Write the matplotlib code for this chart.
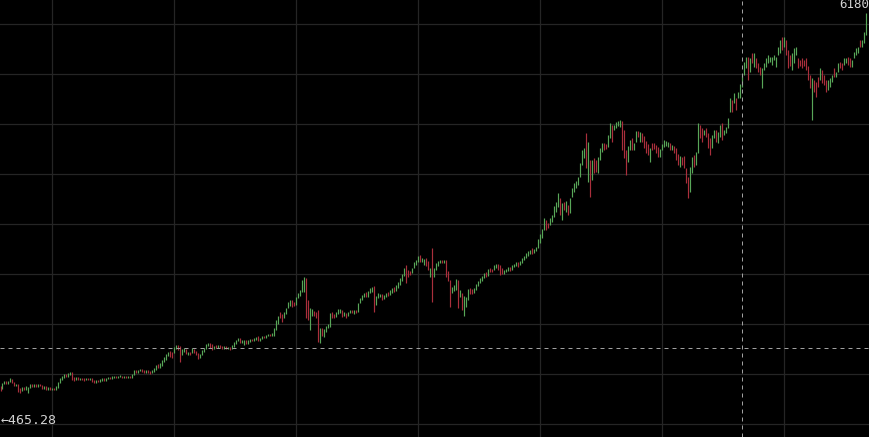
import numpy as np
import matplotlib

matplotlib.use("Agg")
import matplotlib.pyplot as plt

# ----------------------------------------------------------------------------
# candle data (price), one bar per period
# ----------------------------------------------------------------------------
opens = [
    955, 913, 983, 1025, 983, 1011, 1053, 1011, 955, 983,
    927, 885, 941, 899, 857, 927, 983, 941, 983, 941,
    983, 969, 913, 955, 899, 941, 899, 927, 899, 927,
    997, 1039, 1067, 1123, 1081, 1109, 1151, 1081, 1039, 1081,
    1039, 1067, 1067, 1039, 1067, 1039, 1067, 1039, 997, 1039,
    1011, 1025, 1067, 1025, 1053, 1081, 1053, 1067, 1095, 1067,
    1081, 1095, 1067, 1095, 1067, 1095, 1067, 1109, 1179, 1137,
    1165, 1193, 1179, 1137, 1179, 1165, 1137, 1151, 1179, 1263,
    1207, 1235, 1291, 1319, 1375, 1445, 1431, 1417, 1473, 1529,
    1515, 1389, 1431, 1473, 1389, 1431, 1417, 1473, 1445, 1417,
    1347, 1389, 1431, 1473, 1515, 1557, 1543, 1473, 1529, 1487,
    1529, 1515, 1473, 1515, 1473, 1501, 1473, 1501, 1543, 1585,
    1627, 1557, 1529, 1599, 1543, 1571, 1613, 1585, 1599, 1655,
    1585, 1613, 1655, 1627, 1655, 1683, 1655, 1655, 1739, 1823,
    1991, 1963, 1907, 1963, 2047, 2075, 2159, 2131, 2089, 2187,
    2215, 2271, 2271, 2467, 2159, 1739, 1935, 2005, 1991, 2019,
    1557, 1767, 1641, 1711, 1767, 1781, 1991, 1963, 1921, 1963,
    1977, 2019, 1935, 1977, 1935, 1977, 2019, 1963, 2019, 1991,
    2117, 2159, 2201, 2271, 2201, 2257, 2271, 2355, 2089, 2187,
    2201, 2243, 2173, 2201, 2271, 2229, 2257, 2341, 2285, 2327,
    2369, 2425, 2495, 2649, 2579, 2565, 2537, 2607, 2649, 2691,
    2789, 2691, 2649, 2747, 2705, 2481, 2887, 2481, 2579, 2635,
    2677, 2719, 2677, 2719, 2565, 2439, 2257, 2285, 2299, 2439,
    2201, 2257, 1935, 2061, 2159, 2327, 2313, 2257, 2299, 2355,
    2397, 2425, 2467, 2551, 2495, 2607, 2593, 2579, 2607, 2663,
    2649, 2607, 2523, 2551, 2565, 2621, 2579, 2621, 2635, 2691,
    2649, 2677, 2719, 2747, 2775, 2803, 2887, 2817, 2845, 2887,
    2957, 3027, 3139, 3279, 3237, 3209, 3251, 3321, 3391, 3461,
    3587, 3279, 3531, 3391, 3489, 3377, 3601, 3671, 3727, 3769,
    3881, 4049, 4147, 4497, 3811, 4119, 3839, 4147, 4119, 3937,
    4119, 4231, 4357, 4343, 4301, 4427, 4609, 4539, 4567, 4595,
    4581, 4665, 4539, 4259, 4091, 4259, 4427, 4259, 4371, 4525,
    4371, 4497, 4455, 4385, 4343, 4091, 4357, 4357, 4329, 4301,
    4161, 4259, 4301, 4315, 4301, 4357, 4259, 4315, 4287, 4203,
    4021, 4161, 4175, 4007, 3881, 3671, 3937, 4189, 4049, 4217,
    4609, 4567, 4469, 4567, 4497, 4427, 4287, 4427, 4539, 4357,
    4441, 4637, 4469, 4497, 4567, 4791, 4959, 4917, 4987, 4987,
    4987, 5141, 5309, 5407, 5561, 5351, 5617, 5421, 5547, 5477,
    5421, 5127, 5379, 5421, 5477, 5491, 5449, 5519, 5421, 5589,
    5617, 5841, 5701, 5799, 5659, 5589, 5379, 5477, 5589, 5547,
    5519, 5547, 5519, 5547, 5435, 5309, 4679, 5239, 5211, 5281,
    5239, 5379, 5309, 5239, 5099, 5141, 5211, 5407, 5281, 5351,
    5491, 5477, 5449, 5477, 5561, 5547, 5421, 5547, 5589, 5617,
    5799, 5701, 5757, 5869,
]
closes = [
    885, 997, 1025, 983, 1025, 1067, 997, 955, 983, 871,
    857, 941, 899, 955, 941, 983, 941, 983, 941, 983,
    955, 913, 955, 899, 941, 899, 927, 899, 955, 1011,
    1067, 1095, 1123, 1081, 1137, 1151, 1039, 1025, 1081, 1039,
    1067, 1039, 1025, 1067, 1039, 1067, 1011, 997, 1039, 1011,
    1053, 1067, 1025, 1067, 1081, 1053, 1095, 1095, 1067, 1095,
    1109, 1067, 1095, 1067, 1095, 1067, 1123, 1179, 1137, 1179,
    1193, 1151, 1137, 1179, 1137, 1123, 1179, 1207, 1249, 1207,
    1277, 1319, 1361, 1403, 1431, 1361, 1347, 1501, 1529, 1459,
    1291, 1473, 1487, 1403, 1431, 1389, 1487, 1417, 1389, 1333,
    1403, 1459, 1487, 1543, 1557, 1487, 1459, 1515, 1487, 1529,
    1487, 1473, 1515, 1473, 1501, 1459, 1529, 1571, 1599, 1627,
    1557, 1599, 1599, 1543, 1599, 1613, 1585, 1627, 1641, 1585,
    1627, 1655, 1627, 1669, 1683, 1655, 1697, 1767, 1879, 1935,
    1907, 1851, 1991, 2047, 2131, 2159, 2061, 2075, 2201, 2257,
    2299, 2439, 2481, 1907, 1879, 2047, 2033, 1935, 1907, 1571,
    1767, 1655, 1753, 1795, 1823, 1977, 1907, 1907, 1991, 2033,
    2033, 1921, 1991, 1907, 1991, 2019, 1977, 2019, 1977, 2117,
    2187, 2229, 2257, 2201, 2285, 2327, 2341, 1991, 2215, 2257,
    2243, 2159, 2229, 2257, 2215, 2299, 2327, 2271, 2369, 2411,
    2467, 2523, 2607, 2397, 2481, 2509, 2607, 2691, 2719, 2775,
    2691, 2747, 2733, 2635, 2579, 2607, 2131, 2607, 2677, 2705,
    2719, 2677, 2719, 2481, 2425, 2061, 2341, 2369, 2453, 2047,
    2299, 2019, 2215, 2201, 2313, 2243, 2243, 2327, 2383, 2425,
    2467, 2495, 2537, 2481, 2593, 2551, 2551, 2649, 2663, 2579,
    2509, 2523, 2579, 2593, 2621, 2565, 2649, 2663, 2691, 2621,
    2705, 2747, 2775, 2817, 2845, 2859, 2803, 2873, 2901, 3013,
    3083, 3153, 3307, 3139, 3167, 3307, 3349, 3475, 3531, 3657,
    3349, 3517, 3419, 3545, 3349, 3587, 3727, 3797, 3825, 3881,
    4077, 4259, 4287, 4007, 4371, 3601, 4119, 3937, 3951, 4161,
    4287, 4357, 4259, 4273, 4469, 4637, 4371, 4609, 4651, 4665,
    4679, 4259, 4147, 3909, 4315, 4399, 4259, 4357, 4525, 4441,
    4511, 4371, 4287, 4217, 4189, 4287, 4259, 4273, 4217, 4161,
    4273, 4343, 4399, 4385, 4371, 4259, 4329, 4217, 4119, 4049,
    4175, 4049, 4007, 3797, 3587, 4021, 4161, 4021, 4231, 4637,
    4427, 4371, 4539, 4441, 4287, 4189, 4469, 4539, 4371, 4511,
    4609, 4399, 4539, 4581, 4707, 4987, 4791, 5057, 4819, 5071,
    5183, 5309, 5491, 5561, 5239, 5547, 5477, 5617, 5407, 5351,
    5309, 5407, 5477, 5547, 5589, 5561, 5561, 5589, 5561, 5701,
    5799, 5659, 5841, 5589, 5407, 5435, 5617, 5687, 5701, 5407,
    5435, 5407, 5435, 5379, 5239, 5127, 5267, 5071, 5001, 5141,
    5407, 5197, 5169, 5071, 5239, 5267, 5309, 5281, 5351, 5477,
    5407, 5379, 5547, 5547, 5449, 5421, 5519, 5631, 5687, 5701,
    5701, 5799, 5911, 6180,
]

crosshair_price = 1487   # horizontal dashed line
crosshair_bar = 371      # vertical dashed line (bar index)
max_label = "6180"
min_label = "\u2190465.28"

BG = "#000000"
GRID = "#252525"
UP = "#58a658"
DOWN = "#aa2f3c"
CROSS = "#a0a0a0"
TEXT = "#d2d2d2"


def main():
    o = np.asarray(opens, dtype=float)
    c = np.asarray(closes, dtype=float)
    idx = np.arange(len(o))
    colors = np.where(c >= o, UP, DOWN)

    fig = plt.figure(figsize=(8.7, 4.37), dpi=100, facecolor=BG)
    ax = fig.add_axes([0, 0, 1, 1], facecolor=BG)

    ax.vlines(idx, np.minimum(o, c), np.maximum(o, c), colors=colors,
              linewidth=0.85, zorder=2)

    # 2 px per bar, bar centres on pixel centres
    ax.set_xlim(-0.25, len(o) + 0.75)
    ax.set_ylim(241, 6359)

    # grid every 61 bars / 700 price units
    ax.set_xticks(np.arange(26, len(o), 61))
    ax.set_yticks(np.arange(423, 6100, 700))
    ax.grid(True, color=GRID, lw=0.9)
    ax.set_axisbelow(True)
    ax.tick_params(length=0, labelbottom=False, labelleft=False)
    for s in ax.spines.values():
        s.set_visible(False)

    # crosshair
    ax.axhline(crosshair_price, color=CROSS, lw=0.72, ls=(0, (4, 4)), zorder=3)
    ax.axvline(crosshair_bar, color=CROSS, lw=0.72, ls=(0, (4, 4)), zorder=3)

    # max / min annotations
    ax.text(869 / 870, 1 - 5 / 437, max_label, transform=ax.transAxes,
            ha="right", va="center", color=TEXT, fontsize=9,
            family="DejaVu Sans Mono")
    ax.text(1 / 870, 1 - 421 / 437, min_label, transform=ax.transAxes,
            ha="left", va="center", color=TEXT, fontsize=9.5,
            family="DejaVu Sans Mono")

    fig.savefig("out.png", dpi=100, facecolor=BG)


if __name__ == "__main__":
    main()
